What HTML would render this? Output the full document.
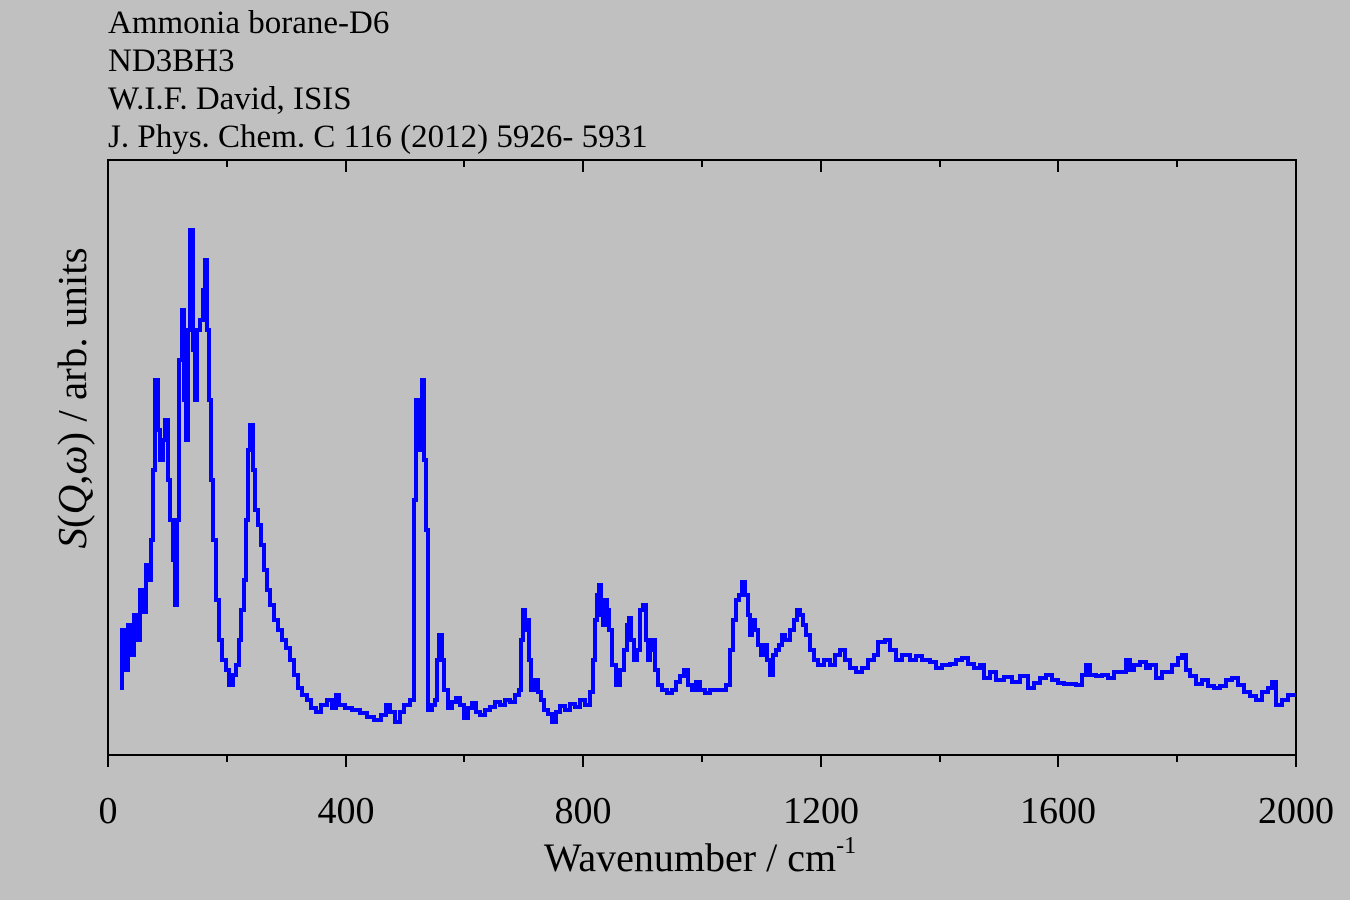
<!DOCTYPE html>
<html><head><meta charset="utf-8"><style>
html,body{margin:0;padding:0;background:#c0c0c0;}
svg{display:block;font-family:"Liberation Serif",serif;}
</style></head><body>
<svg width="1350" height="900" viewBox="0 0 1350 900" xmlns="http://www.w3.org/2000/svg">
<rect width="1350" height="900" fill="#c0c0c0"/>
<g font-size="33" fill="#000">
<text x="108" y="33">Ammonia borane-D6</text>
<text x="108" y="71">ND3BH3</text>
<text x="108" y="109">W.I.F. David, ISIS</text>
<text x="108" y="147">J. Phys. Chem. C 116 (2012) 5926- 5931</text>
</g>
<rect x="108" y="160" width="1188" height="595" fill="none" stroke="#000" stroke-width="2"/>
<g stroke="#000" stroke-width="2">
<line x1="108" y1="755" x2="108" y2="767"/><line x1="227" y1="755" x2="227" y2="762"/>
<line x1="346" y1="755" x2="346" y2="767"/><line x1="464" y1="755" x2="464" y2="762"/>
<line x1="583" y1="755" x2="583" y2="767"/><line x1="702" y1="755" x2="702" y2="762"/>
<line x1="821" y1="755" x2="821" y2="767"/><line x1="940" y1="755" x2="940" y2="762"/>
<line x1="1058" y1="755" x2="1058" y2="767"/><line x1="1177" y1="755" x2="1177" y2="762"/>
<line x1="1296" y1="755" x2="1296" y2="767"/>
<line x1="227" y1="160" x2="227" y2="167"/><line x1="346" y1="160" x2="346" y2="172"/>
<line x1="464" y1="160" x2="464" y2="167"/><line x1="583" y1="160" x2="583" y2="172"/>
<line x1="702" y1="160" x2="702" y2="167"/><line x1="821" y1="160" x2="821" y2="172"/>
<line x1="940" y1="160" x2="940" y2="167"/><line x1="1058" y1="160" x2="1058" y2="172"/>
<line x1="1177" y1="160" x2="1177" y2="167"/>
</g>
<g font-size="38" text-anchor="middle" fill="#000">
<text x="108" y="823">0</text><text x="346" y="823">400</text><text x="583" y="823">800</text>
<text x="821" y="823">1200</text><text x="1058" y="823">1600</text><text x="1296" y="823">2000</text>
</g>
<text x="700" y="871" font-size="40" text-anchor="middle">Wavenumber / cm<tspan font-size="24" dy="-18">-1</tspan></text>
<text transform="translate(86,398) rotate(-90)" font-size="41" text-anchor="middle"><tspan font-style="italic">S</tspan>(<tspan font-style="italic">Q</tspan>,<tspan font-style="italic">ω</tspan>) / arb. units</text>
<path fill="none" stroke="#0000ff" stroke-width="4" stroke-linejoin="miter" d="M122 690 V630 H125 V670 H128 V625 H131 V655 H134 V615 H137 V640 H140 V590 H143 V612 H146 V565 H149 V580 H151 V540 H153 V470 H155 V380 H158 V430 H160 V460 H163 V440 H165 V420 H168 V480 H170 V520 H173 V560 H175 V605 H177 V520 H179 V360 H182 V310 H184 V400 H186 V440 H188 V330 H190 V230 H193 V350 H195 V400 H197 V330 H200 V320 H203 V290 H205 V260 H207 V330 H209 V400 H211 V480 H213 V540 H216 V600 H219 V640 H222 V660 H226 V670 H229 V685 H233 V675 H236 V665 H239 V640 H241 V610 H244 V580 H246 V520 H248 V450 H250 V425 H253 V470 H255 V510 H258 V525 H261 V545 H264 V570 H267 V590 H270 V605 H274 V620 H278 V630 H282 V640 H286 V648 H290 V660 H294 V675 H298 V688 H302 V695 H307 V700 H311 V708 H316 V712 H321 V705 H327 V700 H332 V708 H336 V695 H339 V705 H345 V708 H352 V710 H360 V713 H367 V717 H374 V720 H381 V715 H386 V705 H390 V712 H395 V722 H400 V712 H404 V705 H410 V700 H414 V500 H416 V400 H418 V450 H420 V420 H422 V380 H424 V460 H426 V530 H428 V710 H432 V705 H435 V700 H437 V660 H439 V635 H442 V660 H444 V690 H448 V708 H452 V702 H456 V698 H460 V705 H464 V718 H468 V708 H472 V703 H476 V712 H480 V715 H485 V710 H490 V707 H495 V702 H500 V705 H505 V700 H510 V702 H515 V695 H519 V690 H521 V640 H523 V610 H525 V630 H527 V620 H529 V660 H531 V690 H535 V680 H538 V692 H541 V700 H544 V710 H548 V714 H552 V722 H556 V712 H560 V706 H565 V710 H570 V704 H575 V707 H580 V700 H585 V705 H590 V692 H593 V660 H595 V620 H597 V595 H599 V585 H601 V615 H603 V625 H605 V600 H607 V610 H609 V630 H612 V665 H616 V685 H620 V670 H624 V650 H627 V625 H629 V618 H631 V640 H634 V660 H637 V650 H640 V610 H643 V605 H646 V640 H648 V660 H650 V650 H652 V640 H655 V670 H658 V685 H662 V690 H667 V693 H672 V690 H676 V682 H680 V676 H684 V670 H688 V685 H692 V690 H696 V682 H700 V690 H705 V693 H710 V690 H716 V690 H722 V690 H726 V685 H730 V650 H733 V620 H736 V600 H739 V595 H742 V582 H745 V595 H748 V615 H750 V635 H752 V620 H755 V630 H758 V645 H761 V655 H764 V645 H767 V660 H770 V675 H773 V655 H776 V650 H779 V645 H782 V635 H785 V640 H790 V630 H794 V620 H797 V610 H800 V615 H803 V625 H806 V635 H810 V650 H814 V660 H818 V665 H824 V660 H830 V665 H835 V655 H840 V650 H845 V660 H850 V668 H856 V672 H862 V668 H868 V660 H874 V655 H878 V642 H885 V640 H890 V650 H896 V660 H902 V655 H910 V660 H916 V656 H922 V660 H930 V662 H936 V668 H942 V665 H950 V664 H956 V660 H962 V658 H968 V664 H974 V668 H980 V665 H984 V678 H990 V672 H996 V680 H1004 V677 H1012 V682 H1020 V676 H1028 V688 H1034 V683 H1040 V678 H1046 V675 H1052 V680 H1058 V683 H1064 V684 H1070 V684 H1076 V685 H1082 V675 H1086 V665 H1090 V675 H1096 V676 H1102 V675 H1108 V678 H1114 V672 H1120 V672 H1126 V660 H1130 V670 H1134 V665 H1140 V662 H1146 V668 H1150 V665 H1156 V678 H1162 V672 H1168 V672 H1172 V665 H1178 V658 H1182 V655 H1186 V670 H1190 V676 H1196 V684 H1202 V680 H1208 V686 H1214 V688 H1220 V686 H1226 V680 H1232 V678 H1238 V685 H1244 V692 H1250 V696 H1256 V700 H1262 V692 H1268 V688 H1272 V682 H1276 V705 H1282 V700 H1288 V695 H1296"/>
</svg>
</body></html>
